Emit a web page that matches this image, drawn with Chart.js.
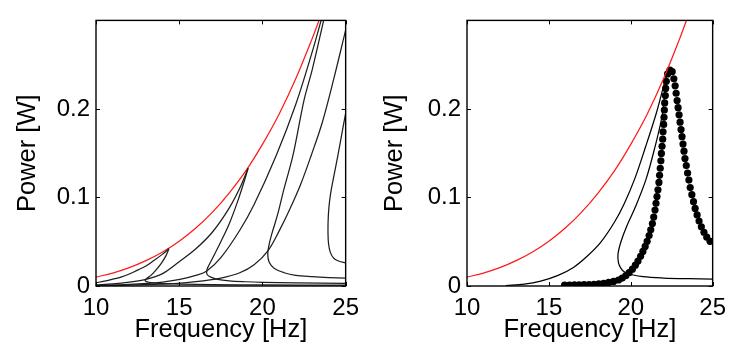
<!DOCTYPE html>
<html>
<head>
<meta charset="utf-8">
<script src="https://cdn.jsdelivr.net/npm/chart.js@4.4.1/dist/chart.umd.min.js"></script>
<style>
  html, body { margin: 0; padding: 0; background: #fff; }
  .panel { position: absolute; top: 0; width: 367px; height: 356px; }
  #left { left: 0; }
  #right { left: 367px; }
</style>
</head>
<body>
<div class="panel" id="left"><canvas id="chart-left"></canvas></div>
<div class="panel" id="right"><canvas id="chart-right"></canvas></div>
<script>
// Axis ticks
const freqTicks = [10, 15, 20, 25];
const powerTicks = [0, 0.1, 0.2];

// Envelope (red), same in both panels
const envFreq  = [10, 11, 12, 13, 14, 15, 16, 17, 18, 19, 20, 21, 22, 23, 23.5];
const envPower = [0.0101, 0.0146, 0.0207, 0.0286, 0.0384, 0.0506, 0.0655, 0.0835, 0.105, 0.130, 0.160, 0.194, 0.234, 0.280, 0.305];

// Left panel. Each response is split at its peak:
// "up" = rising branch, "back" = branch from the peak down to the fold and on to the right
const aUpFreq    = [10, 10.5, 11, 11.5, 12, 12.5, 13, 13.5, 14, 14.38];
const aUpPower   = [0.0036, 0.0055, 0.0077, 0.010, 0.0135, 0.018, 0.0225, 0.029, 0.036, 0.042];
const aBackFreq  = [14.38, 14.2, 13.9, 13.6, 13.3, 13.05, 12.95, 13.0, 13.2, 13.6, 14.2, 15, 17, 20, 25];
const aBackPower = [0.042, 0.034, 0.025, 0.018, 0.012, 0.0085, 0.0066, 0.0052, 0.0042, 0.0033, 0.0027, 0.0021, 0.0015, 0.0012, 0.0010];

const bUpFreq    = [10, 11, 12, 12.94, 14, 15.04, 16, 17, 18, 18.7, 19.14];
const bUpPower   = [0.0012, 0.0025, 0.0045, 0.0072, 0.014, 0.028, 0.042, 0.061, 0.088, 0.113, 0.133];
const bBackFreq  = [19.14, 18.9, 18.5, 18, 17.5, 17.1, 16.8, 16.66, 16.68, 16.9, 17.3, 18, 19, 20, 22, 25];
const bBackPower = [0.133, 0.118, 0.095, 0.070, 0.050, 0.035, 0.024, 0.018, 0.013, 0.010, 0.0075, 0.0058, 0.0048, 0.0042, 0.0035, 0.0030];

const cUpFreq    = [10, 12, 14, 15.04, 16, 16.66, 17.5, 18.64, 19.5, 20.84, 22, 23, 23.6];
const cUpPower   = [0.0006, 0.0018, 0.0045, 0.0075, 0.012, 0.017, 0.032, 0.063, 0.092, 0.148, 0.205, 0.265, 0.305];
const cBackFreq  = [23.74, 23, 22.5, 21.84, 21.3, 20.9, 20.55, 20.38, 20.32, 20.4, 20.7, 21.3, 22, 23, 24, 25];
const cBackPower = [0.305, 0.245, 0.210, 0.148, 0.110, 0.080, 0.058, 0.045, 0.036, 0.027, 0.020, 0.015, 0.012, 0.0105, 0.0095, 0.0088];

const dUpFreq    = [10, 14, 16, 17.5, 18.64, 19.5, 20.34, 21, 21.6, 22.3, 22.94, 23.6, 24.3, 25];
const dUpPower   = [0.0003, 0.002, 0.005, 0.009, 0.015, 0.024, 0.040, 0.062, 0.085, 0.115, 0.148, 0.185, 0.235, 0.289];
const dBackFreq  = [25, 24.8, 24.54, 24.3, 24.1, 24.0, 23.95, 23.94, 23.97, 24.08, 24.3, 24.6, 25];
const dBackPower = [0.195, 0.175, 0.148, 0.125, 0.105, 0.090, 0.075, 0.060, 0.048, 0.038, 0.031, 0.028, 0.026];

// Right panel: one folded response curve
const foldUpFreq    = [12.37, 13.5, 14.5, 15.56, 16.5, 17.3, 18.15, 19, 19.6, 20.24, 20.9, 21.54, 21.95, 22.25];
const foldUpPower   = [0.0005, 0.002, 0.0055, 0.012, 0.021, 0.033, 0.049, 0.072, 0.093, 0.121, 0.157, 0.194, 0.222, 0.243];
const foldBackFreq  = [22.25, 22.15, 21.93, 21.45, 20.94, 20.3, 19.74, 19.4, 19.22, 19.25, 19.4, 19.6, 20, 20.74, 22, 23.5, 25];
const foldBackPower = [0.243, 0.232, 0.194, 0.155, 0.121, 0.090, 0.067, 0.050, 0.036, 0.026, 0.020, 0.016, 0.013, 0.0105, 0.009, 0.0082, 0.0078];

// Right panel: measured points (dots)
const dotFreq  = [15.96, 16.26, 16.56, 16.85, 17.15, 17.45, 17.75, 18.05, 18.35, 18.65, 18.95, 19.25, 19.48, 19.70, 19.90, 20.10, 20.28, 20.44, 20.60, 20.74, 20.88, 21.00, 21.12, 21.22, 21.32, 21.40, 21.48, 21.54, 21.60, 21.66, 21.72, 21.76, 21.80, 21.84, 21.87, 21.91, 21.95, 21.97, 22.01, 22.03, 22.05, 22.07, 22.11, 22.13, 22.17, 22.25, 22.39, 22.53, 22.63, 22.71, 22.77, 22.83, 22.89, 22.95, 23.01, 23.07, 23.13, 23.19, 23.25, 23.31, 23.39, 23.47, 23.55, 23.63, 23.73, 23.83, 23.93, 24.05, 24.17, 24.31, 24.47, 24.64, 24.84];
const dotPower = [0.0010, 0.0011, 0.0012, 0.0013, 0.0015, 0.0017, 0.0020, 0.0025, 0.0031, 0.0040, 0.0052, 0.0068, 0.0090, 0.0118, 0.0150, 0.0190, 0.0235, 0.0282, 0.0335, 0.0390, 0.0447, 0.0505, 0.0570, 0.0635, 0.0705, 0.0778, 0.0858, 0.0934, 0.1010, 0.1087, 0.1170, 0.1250, 0.1330, 0.1414, 0.1498, 0.1578, 0.1658, 0.1741, 0.1825, 0.1905, 0.1988, 0.2068, 0.2152, 0.2232, 0.2312, 0.2395, 0.2439, 0.2421, 0.2341, 0.2261, 0.2177, 0.2094, 0.2014, 0.1934, 0.1850, 0.1767, 0.1687, 0.1603, 0.1523, 0.1439, 0.1360, 0.1276, 0.1196, 0.1112, 0.1032, 0.0952, 0.0876, 0.0803, 0.0734, 0.0669, 0.0607, 0.0552, 0.0505];

const FONT = 'Liberation Sans, Arial, Helvetica, sans-serif';
const RED = '#ff1a1a';
const LINE = '#1e1e1e';

function toPoints(xs, ys) {
  return xs.map((x, i) => ({ x, y: ys[i] }));
}

function lineSet(xs, ys, color) {
  return {
    data: toPoints(xs, ys),
    showLine: true,
    borderColor: color,
    borderWidth: 1.25,
    pointRadius: 0,
    tension: 0.35,
    fill: false
  };
}

// Box frame with inward ticks on all four sides (MATLAB style)
const boxPlugin = {
  id: 'box',
  afterDraw(chart) {
    const { ctx, chartArea: a, scales } = chart;
    const len = 4;
    ctx.save();
    ctx.strokeStyle = '#000';
    ctx.lineWidth = 1;
    ctx.beginPath();
    for (const v of freqTicks) {
      const x = Math.round(scales.x.getPixelForValue(v)) + 0.5;
      ctx.moveTo(x, a.bottom); ctx.lineTo(x, a.bottom - len);
      ctx.moveTo(x, a.top); ctx.lineTo(x, a.top + len);
    }
    for (const v of powerTicks) {
      const y = Math.round(scales.y.getPixelForValue(v)) + 0.5;
      ctx.moveTo(a.left, y); ctx.lineTo(a.left + len, y);
      ctx.moveTo(a.right, y); ctx.lineTo(a.right - len, y);
    }
    ctx.stroke();
    ctx.lineWidth = 1.4;
    ctx.strokeRect(a.left, a.top, a.right - a.left, a.bottom - a.top);
    ctx.restore();
  }
};

function makeChart(id, datasets, padRight, axisWidth) {
  return new Chart(document.getElementById(id), {
    type: 'scatter',
    data: { datasets },
    options: {
      responsive: true,
      maintainAspectRatio: false,
      animation: false,
      layout: { padding: { top: 11, right: padRight, bottom: 0, left: 0 } },
      plugins: { legend: { display: false }, tooltip: { enabled: false } },
      scales: {
        x: {
          type: 'linear', min: 10, max: 25,
          afterBuildTicks: s => { s.ticks = freqTicks.map(v => ({ value: v })); },
          afterFit: s => { s.height = 70; },
          grid: { display: false, drawTicks: false },
          border: { display: false },
          ticks: { color: '#000', padding: 8, font: { family: FONT, size: 24 }, maxRotation: 0 },
          title: { display: true, text: 'Frequency [Hz]', color: '#000', font: { family: FONT, size: 25.5 }, padding: { top: 0, bottom: 11 } }
        },
        y: {
          type: 'linear', min: 0, max: 0.3,
          afterBuildTicks: s => { s.ticks = powerTicks.map(v => ({ value: v })); },
          afterFit: s => { s.width = axisWidth; },
          grid: { display: false, drawTicks: false },
          border: { display: false },
          ticks: { color: '#000', padding: 6, font: { family: FONT, size: 24 }, callback: v => String(Math.round(v * 10) / 10) },
          title: { display: true, text: 'Power [W]', color: '#000', font: { family: FONT, size: 25.5 }, padding: { top: 13, bottom: 0 } }
        }
      }
    },
    plugins: [boxPlugin]
  });
}

makeChart('chart-left', [
  lineSet(aUpFreq, aUpPower, LINE),
  lineSet(aBackFreq, aBackPower, LINE),
  lineSet(bUpFreq, bUpPower, LINE),
  lineSet(bBackFreq, bBackPower, LINE),
  lineSet(cUpFreq, cUpPower, LINE),
  lineSet(cBackFreq, cBackPower, LINE),
  lineSet(dUpFreq, dUpPower, LINE),
  lineSet(dBackFreq, dBackPower, LINE),
  lineSet(envFreq, envPower, RED)
], 21, 96);

makeChart('chart-right', [
  lineSet(envFreq, envPower, RED),
  lineSet(foldUpFreq, foldUpPower, '#000'),
  lineSet(foldBackFreq, foldBackPower, '#000'),
  {
    data: toPoints(dotFreq, dotPower),
    showLine: false,
    pointRadius: 3.6,
    pointBackgroundColor: '#000',
    pointBorderWidth: 0
  }
], 16, 100);
</script>
</body>
</html>
